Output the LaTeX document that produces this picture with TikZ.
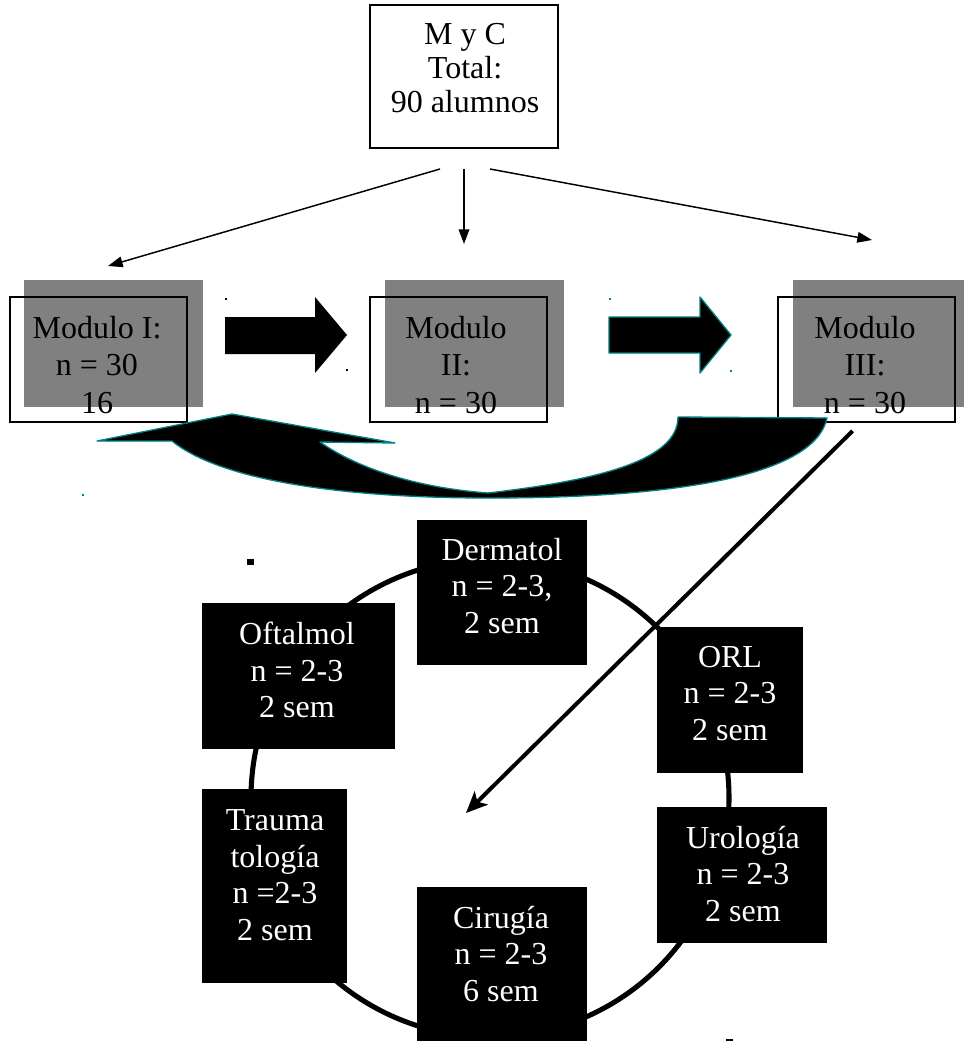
\documentclass[tikz,border=0pt]{standalone}
\usepackage{fontspec}
\setmainfont{Liberation Serif}
\usetikzlibrary{positioning, arrows.meta, calc}
\definecolor{shapeteal}{RGB}{0,128,128}
\newcommand{\px}{0.75pt}

\begin{document}
\begin{tikzpicture}[x=0.75pt, y=-0.75pt]
    % Styles
    \tikzset{
        total_box/.style={rectangle, draw, line width=1.5pt, inner sep=0pt},
        module_shade/.style={rectangle, fill=black!50, inner sep=0pt},
        module_frame/.style={rectangle, draw, line width=1.5pt, inner sep=0pt},
        rot_box/.style={rectangle, fill=black, inner sep=0pt},
        label_text/.style={align=center, inner sep=0pt, font=\fontsize{24pt}{27.4pt}\selectfont},
        module_text/.style={label_text, font=\fontsize{24pt}{28.1pt}\selectfont},
        rot_text/.style={label_text, text=white},
        split_arrow/.style={-{Triangle[length=11pt, width=8pt]}, line width=1.1pt},
        block_arrow/.style={fill=black, line width=1pt, line join=round},
        ring/.style={line width=3.8pt}
    }
    \useasboundingbox (0,0) rectangle (963,1041);

    % --- Top box ---
    \node[total_box, minimum width=188*\px, minimum height=143*\px] (total) at (464,76.5) {};
    \node[label_text, font=\fontsize{24pt}{25.5pt}\selectfont] (total_txt) at (465,68) {M y C\\Total:\\90 alumnos};

    % --- Modules ---
    \foreach \name/\cx/\fx in {mod1/113.5/98, mod2/474.5/458.5, mod3/882.5/866.5} {
        \node[module_shade, minimum width=179*\px, minimum height=127*\px] (\name_shade) at (\cx,343.5) {};
        \node[module_frame, minimum width=177*\px, minimum height=125*\px] (\name) at (\fx,359.5) {};
    }
    \begin{scope}
        \clip (0,0) rectangle (963,413);
        \node[module_text] (mod1_txt) at (97,364.75) {Modulo I:\\n = 30\\16};
        \node[module_text] (mod2_txt) at (456,364.75) {Modulo\\II:\\n = 30};
        \node[module_text] (mod3_txt) at (865,364.75) {Modulo\\III:\\n = 30};
    \end{scope}

    % --- Split from the top box ---
    \coordinate (mod1_in) at (108,266);
    \coordinate (mod2_in) at (464,244);
    \coordinate (mod3_in) at (872,240);
    \draw[split_arrow] ($(total.south)+(-24,20)$) -- (mod1_in);
    \draw[split_arrow] ($(total.south)+(0,20)$) -- (mod2_in);
    \draw[split_arrow] ($(total.south)+(26,20)$) -- (mod3_in);

    % --- Block arrows between modules ---
    \fill (225,317) -- (315,317) -- (315,297) -- (347,335) -- (315,373) -- (315,354) -- (225,354) -- cycle;
    \draw[block_arrow, draw=shapeteal] (609,317) -- (700,317) -- (700,297) -- (731,335) -- (700,373) -- (700,353) -- (609,353) -- cycle;

    % back from Modulo III to Modulo I
    \draw[block_arrow, draw=shapeteal] (232,414) -- (395,443) -- (320,442)
        .. controls (360,470) and (420,488) .. (488,493)
        .. controls (600,480) and (678,460) .. (678,417)
        -- (827,418)
        .. controls (815,475) and (680,498) .. (490,498)
        .. controls (340,498) and (220,480) .. (172,441)
        -- (97,441) -- cycle;

    % stray marks
    \fill (225,298) rectangle (227,300);
    \fill (346,369) rectangle (348,371);
    \fill[shapeteal] (609,298) rectangle (611,300);
    \fill[shapeteal] (730,370) rectangle (732,372);
    \fill[shapeteal] (82,494) rectangle (84,496);
    \fill (247,559) rectangle (254,565);
    \fill (726,1039) rectangle (733,1041);

    % --- Rotation ring ---
    \draw[ring] (490,798) circle[radius=179.25pt];

    \node[rot_box, minimum width=170*\px, minimum height=145*\px] (derm) at (502,592.5) {};
    \node[rot_text] (derm_txt) at (502,585.75) {Dermatol\\n = 2-3,\\2 sem};

    \node[rot_box, minimum width=193*\px, minimum height=146*\px] (oftal) at (298.5,676) {};
    \node[rot_text] (oftal_txt) at (297,670.25) {Oftalmol\\n = 2-3\\2 sem};

    \node[rot_box, minimum width=146*\px, minimum height=146*\px] (orl) at (730,700) {};
    \node[rot_text] (orl_txt) at (730,693.25) {ORL\\n = 2-3\\2 sem};

    \node[rot_box, minimum width=145*\px, minimum height=194*\px] (trauma) at (274.5,886) {};
    \node[rot_text] (trauma_txt) at (275,875.25) {Trauma\\tología\\n =2-3\\2 sem};

    \node[rot_box, minimum width=170*\px, minimum height=136*\px] (uro) at (742,875) {};
    \node[rot_text] (uro_txt) at (743,873.75) {Urología\\n = 2-3\\2 sem};

    \node[rot_box, minimum width=170*\px, minimum height=160*\px] (ciru) at (502,967) {};
    \node[rot_text] (ciru_txt) at (501,953.75) {Cirugía\\n = 2-3\\6 sem};

    % --- Modulo III into the rotation ---
    \coordinate (ring_in) at (466,813);
    \draw[line width=3pt, -{Stealth[length=16pt, width=14pt, inset=4pt]}] ($(mod3.south)+(-14,8)$) -- (ring_in);

\end{tikzpicture}
\end{document}
